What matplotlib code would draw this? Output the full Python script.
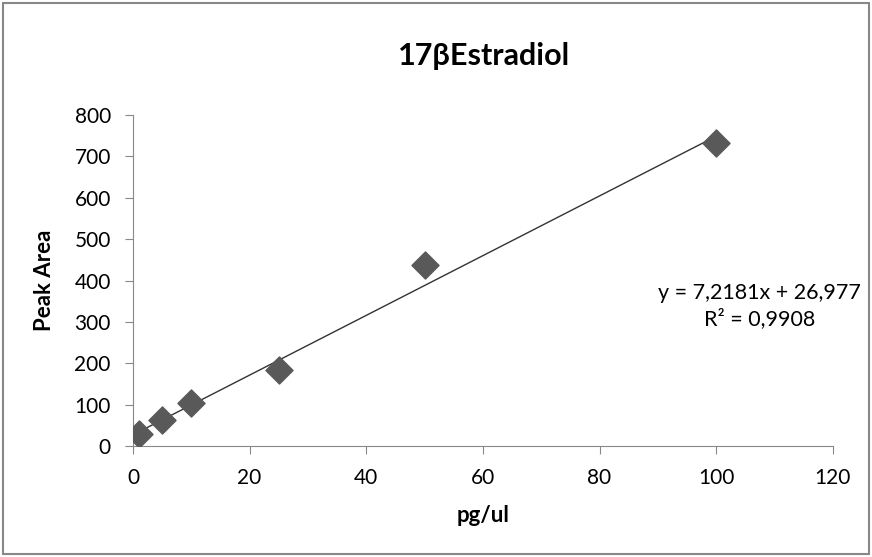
import matplotlib.pyplot as plt
from matplotlib.patches import Rectangle

plt.rcParams['font.family'] = ['Lato', 'DejaVu Sans']

conc = [1, 5, 10, 25, 50, 100]
peak_area = [30, 62, 104, 184, 437, 732]
slope = 7.2181
intercept = 26.977
r2_text = "R² = 0,9908"
eq_text = "y = 7,2181x + 26,977"
x_ticks = [0, 20, 40, 60, 80, 100, 120]
y_ticks = [0, 100, 200, 300, 400, 500, 600, 700, 800]

fig = plt.figure(figsize=(8.72, 5.57), dpi=100)
ax = fig.add_axes([0.1525, 0.1993, 0.8025, 0.5942])

fit_x = [min(conc), max(conc)]
fit_y = [slope * v + intercept for v in fit_x]
ax.plot(fit_x, fit_y, color='#333333', linewidth=1.0, zorder=2)
ax.scatter(conc, peak_area, marker='D', s=190, color='#595959', zorder=3)

ax.set_xlim(0, 120)
ax.set_ylim(0, 800)
ax.set_xticks(x_ticks)
ax.set_yticks(y_ticks)
ax.tick_params(labelsize=15, color='#888888', length=6, direction='out')
ax.tick_params(axis='x', pad=10)
ax.tick_params(axis='y', pad=10)
for side in ['top', 'right']:
    ax.spines[side].set_visible(False)
for side in ['left', 'bottom']:
    ax.spines[side].set_color('#888888')

ax.set_xlabel('pg/ul', fontsize=16, fontweight='bold', labelpad=12)
ax.set_ylabel('Peak Area', fontsize=16, fontweight='bold', labelpad=14)
fig.text(0.555, 0.9, '17βEstradiol', fontsize=22, fontweight='bold', ha='center', va='center')

ax.text(107.5, 338, eq_text + "\n" + r2_text, fontsize=15.5, ha='center', va='center',
        linespacing=1.35, clip_on=False)

fig.patches.append(Rectangle((0.004, 0.005), 0.992, 0.99, transform=fig.transFigure,
                             fill=False, edgecolor='#888888', linewidth=1.5))

fig.savefig('out.png', dpi=100)
